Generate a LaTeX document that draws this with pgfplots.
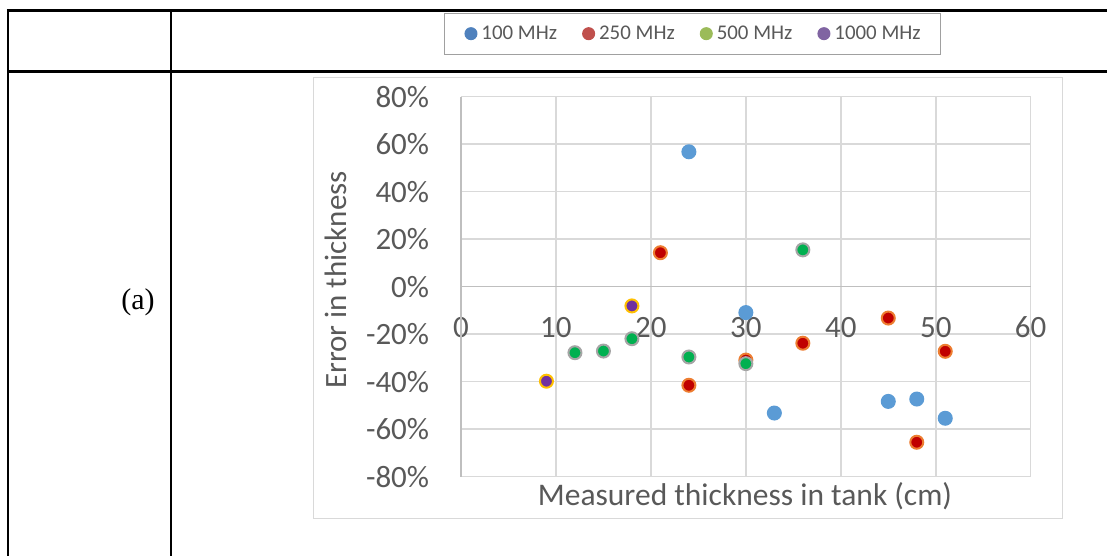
\documentclass[border=0pt]{standalone}
\usepackage{pgfplots}
\pgfplotsset{compat=1.18}
\usepackage{fontspec}
\setmainfont{Carlito}
\newfontfamily\seriffont{Liberation Serif}

\definecolor{textgray}{HTML}{595959}
\definecolor{gridgray}{HTML}{D9D9D9}
\definecolor{axisgray}{HTML}{BFBFBF}
\definecolor{legendborder}{HTML}{A0A0A0}
% legend swatches
\definecolor{lgblue}{HTML}{4F81BD}
\definecolor{lgred}{HTML}{C0504D}
\definecolor{lggreen}{HTML}{9BBB59}
\definecolor{lgpurple}{HTML}{8064A2}
% series markers
\definecolor{mblue}{HTML}{5B9BD5}
\definecolor{mred}{HTML}{C00000}
\definecolor{morange}{HTML}{ED7D31}
\definecolor{mgreen}{HTML}{00B050}
\definecolor{mgray}{HTML}{A5A5A5}
\definecolor{mpurple}{HTML}{7030A0}
\definecolor{mgold}{HTML}{FFC000}

\pgfplotstableread{
x y
24 56.8
30 -10.9
33 -53.2
45 -48.3
48 -47.3
51 -55.4
}\mhzA
\pgfplotstableread{
x y
21 14.3
24 -41.5
30 -30.9
36 -23.8
45 -13.2
48 -65.5
51 -27.2
}\mhzB
\pgfplotstableread{
x y
12 -27.8
15 -27.1
18 -21.9
24 -29.6
30 -32.4
36 15.5
}\mhzC
\pgfplotstableread{
x y
9 -39.8
18 -8.1
}\mhzD

\begin{document}
\begin{tikzpicture}[x=1pt,y=1pt]
\path[use as bounding box] (0,0) rectangle (1107,556);
% table rules
\draw[line width=2.5pt] (6.75,545.3) -- (1107,545.3);
\draw[line width=2.5pt] (8,484.3) -- (1107,484.3);
\draw[line width=2.5pt] (8,0) -- (8,546.55);
\draw[line width=2.5pt] (171,0) -- (171,546.55);
\node[font={\fontsize{30}{34}\selectfont\seriffont}] at (138,254) {(a)};
% chart area frame
\draw[gridgray, line width=1.5pt] (313.3,37.3) rectangle (1062.7,478.3);
\begin{axis}[
  at={(461pt,79.3pt)}, anchor=south west,
  scale only axis, width=569.7pt, height=380pt,
  xmin=0, xmax=60, ymin=-80, ymax=80,
  axis line style={draw=none},
  tick style={draw=none}, major tick length=0pt,
  grid=major, major grid style={line width=1.5pt, gridgray},
  xtick={0,10,...,60}, xticklabels={0,10,20,30,40,50,60},
  ytick={-80,-60,...,80},
  yticklabels={-80\%,-60\%,-40\%,-20\%,0\%,20\%,40\%,60\%,80\%},
  xticklabel style={font=\fontsize{31}{36}\selectfont, text=textgray, anchor=base, inner sep=0pt, yshift=138.7pt},
  yticklabel style={font=\fontsize{31}{36}\selectfont, text=textgray, anchor=east, inner sep=0pt, xshift=-31.7pt},
  xlabel={Measured thickness in tank (cm)},
  xlabel style={at={(axis description cs:0.4985,-0.077)}, anchor=base, font=\fontsize{31.5}{36}\selectfont, text=textgray},
  ylabel={Error in thickness},
  ylabel style={at={(axis description cs:-0.2194,0.5176)}, anchor=center, rotate=0, font=\fontsize{31}{36}\selectfont, text=textgray},
  legend columns=4,
  legend style={
    at={(axis description cs:0.4065,1.1658)}, anchor=center,
    draw=legendborder, line width=1pt, fill=white,
    font=\fontsize{20.9}{24}\selectfont, text=textgray,
    inner xsep=20pt, inner ysep=13pt,
    nodes={inner sep=0pt},
    /tikz/every odd column/.append style={column sep=4pt},
    /tikz/every even column/.append style={column sep=25pt},
  },
  clip=false,
]
% axis lines through the origin
\draw[axisgray, line width=1.5pt] (axis cs:0,-80) -- (axis cs:0,80);
\draw[axisgray, line width=1.5pt] (axis cs:0,0) -- (axis cs:60,0);

\addlegendimage{legend image code/.code={\fill[lgblue] (6pt,0pt) circle (6pt);}}
\addlegendentry{100 MHz}
\addlegendimage{legend image code/.code={\fill[lgred] (6pt,0pt) circle (6pt);}}
\addlegendentry{250 MHz}
\addlegendimage{legend image code/.code={\fill[lggreen] (6pt,0pt) circle (6pt);}}
\addlegendentry{500 MHz}
\addlegendimage{legend image code/.code={\fill[lgpurple] (6pt,0pt) circle (6pt);}}
\addlegendentry{1000 MHz}

\addplot[forget plot, only marks, mark=*, mark size=6.5pt,
  mark options={fill=mblue, draw=mblue, line width=2pt}] table {\mhzA};
\addplot[forget plot, only marks, mark=*, mark size=6.5pt,
  mark options={fill=mred, draw=morange, line width=2pt}] table {\mhzB};
\addplot[forget plot, only marks, mark=*, mark size=6.5pt,
  mark options={fill=mgreen, draw=mgray, line width=2pt}] table {\mhzC};
\addplot[forget plot, only marks, mark=*, mark size=6.5pt,
  mark options={fill=mpurple, draw=mgold, line width=2pt}] table {\mhzD};
\end{axis}
\end{tikzpicture}
\end{document}
